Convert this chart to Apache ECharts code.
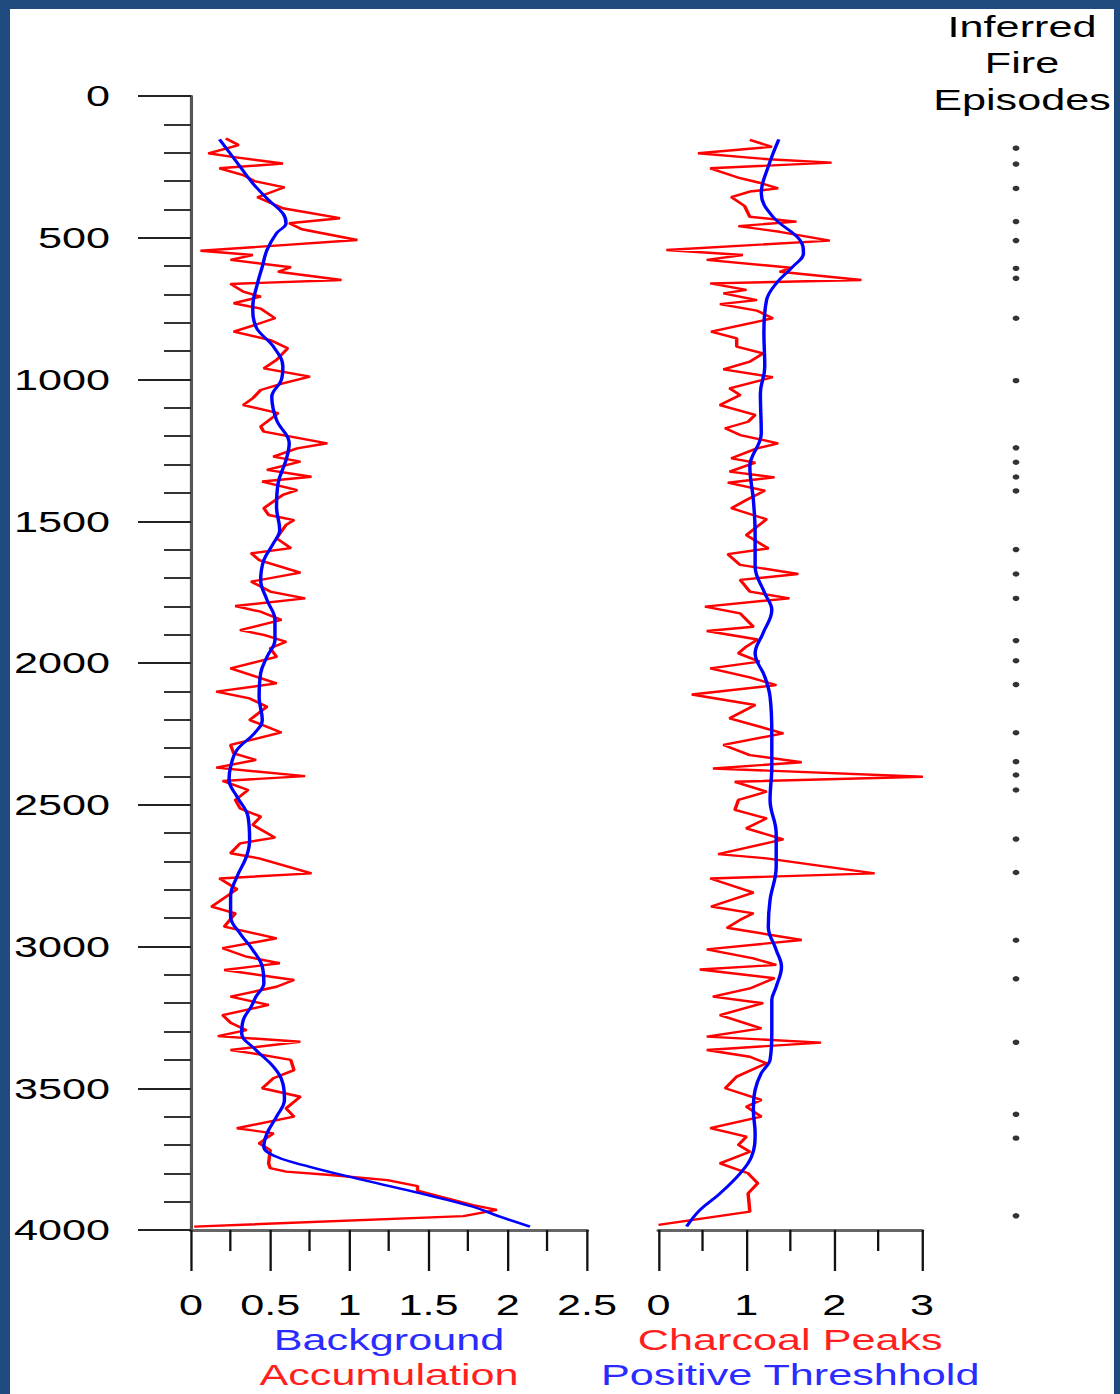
<!DOCTYPE html>
<html><head><meta charset="utf-8">
<script src="https://cdn.jsdelivr.net/npm/echarts@6/dist/echarts.min.js"></script>
<style>
html,body{margin:0;padding:0;width:1120px;height:1394px;overflow:hidden;background:#fff;}
#wrap{position:absolute;left:0;top:0;width:1120px;height:1394px;background:#1f4b7f;overflow:hidden}
#inner{position:absolute;left:10px;top:9px;width:1104px;height:1390px;background:#fff}
#chart{position:absolute;left:0;top:0;width:778px;height:1394px;transform:scaleX(1.43959);transform-origin:0 0;}
</style></head>
<body><div id="wrap"><div id="inner"></div><div id="chart"></div></div>
<script>
// ---- data ----
const depthTicks = [0, 500, 1000, 1500, 2000, 2500, 3000, 3500, 4000];
const accTicks = [0, 0.5, 1, 1.5, 2, 2.5];
const peakTicks = [0, 1, 2, 3];

const accDepth = [150,173,202,214,238,255,279,300,322,357,396,431,449,470,508,546,561,578,604,620,649,663,690,708,731,750,784,810,831,861,890,931,961,990,1014,1037,1066,1090,1119,1166,1184,1225,1243,1272,1290,1319,1343,1360,1390,1407,1454,1478,1496,1513,1560,1595,1613,1637,1681,1713,1748,1772,1799,1819,1848,1884,1901,1925,1948,1978,2019,2048,2072,2101,2125,2154,2201,2245,2289,2319,2342,2369,2399,2416,2448,2483,2513,2542,2571,2616,2636,2671,2689,2742,2760,2798,2859,2883,2930,2971,3006,3036,3059,3083,3118,3142,3177,3206,3242,3269,3295,3316,3336,3365,3377,3400,3436,3465,3500,3530,3571,3600,3641,3659,3694,3718,3765,3782,3794,3806,3824,3845,3861,3912,3929,3951,3988];
const accValue = [0.22,0.30,0.11,0.25,0.58,0.18,0.33,0.40,0.59,0.42,0.58,0.94,0.62,0.70,1.05,0.06,0.39,0.25,0.63,0.55,0.95,0.25,0.33,0.44,0.27,0.44,0.53,0.39,0.27,0.50,0.61,0.54,0.46,0.75,0.58,0.44,0.39,0.33,0.55,0.44,0.46,0.86,0.67,0.52,0.69,0.48,0.76,0.45,0.67,0.58,0.46,0.49,0.65,0.60,0.54,0.63,0.38,0.43,0.69,0.38,0.50,0.72,0.28,0.44,0.57,0.31,0.46,0.60,0.50,0.54,0.25,0.41,0.54,0.16,0.37,0.48,0.37,0.57,0.25,0.27,0.41,0.16,0.72,0.20,0.36,0.28,0.31,0.44,0.39,0.53,0.31,0.25,0.43,0.76,0.18,0.29,0.13,0.28,0.21,0.54,0.20,0.35,0.56,0.21,0.65,0.54,0.25,0.49,0.20,0.25,0.35,0.17,0.69,0.25,0.39,0.63,0.65,0.52,0.45,0.69,0.60,0.65,0.29,0.52,0.43,0.50,0.49,0.50,0.60,0.88,1.24,1.43,1.43,1.78,1.93,1.72,0.02];

const bgDepth = [153,249,308,367,414,449,484,543,602,661,743,814,884,955,1002,1061,1143,1225,1284,1366,1449,1531,1578,1637,1707,1778,1848,1919,1978,2036,2120,2201,2248,2307,2366,2413,2471,2542,2624,2683,2754,2824,2895,2954,3012,3071,3130,3177,3212,3259,3306,3365,3424,3483,3541,3600,3659,3706,3742,3777,3824,3871,3918,3953,3988];
const bgValue = [0.18,0.31,0.39,0.49,0.58,0.60,0.54,0.48,0.45,0.42,0.39,0.41,0.52,0.58,0.57,0.51,0.54,0.62,0.60,0.55,0.54,0.56,0.52,0.46,0.44,0.48,0.53,0.53,0.48,0.44,0.43,0.45,0.40,0.29,0.25,0.24,0.29,0.36,0.37,0.35,0.29,0.25,0.25,0.31,0.39,0.45,0.46,0.41,0.38,0.33,0.32,0.41,0.52,0.58,0.59,0.54,0.48,0.46,0.54,0.75,1.09,1.45,1.78,1.95,2.14];

const peakDepth = [155,179,202,223,235,255,290,306,326,337,357,388,426,443,459,479,510,543,561,578,606,620,649,661,684,696,720,734,757,784,831,855,884,908,937,964,992,1031,1055,1090,1125,1149,1172,1196,1225,1243,1278,1293,1325,1345,1364,1392,1425,1454,1493,1549,1596,1616,1654,1686,1707,1748,1772,1801,1825,1872,1887,1917,1942,1966,1995,2019,2051,2078,2111,2148,2195,2248,2289,2325,2350,2372,2401,2419,2454,2483,2518,2548,2583,2622,2674,2689,2742,2760,2810,2859,2883,2906,2934,2977,3010,3042,3065,3081,3112,3148,3177,3200,3242,3289,3318,3339,3365,3389,3412,3459,3500,3541,3565,3600,3641,3671,3700,3724,3765,3800,3835,3871,3935,3982];
const peakValue = [1.04,1.29,0.45,1.25,1.97,0.59,0.93,1.15,1.36,1.04,0.83,0.98,1.04,1.57,0.91,1.38,1.95,0.09,0.96,0.55,1.51,1.38,2.31,0.59,1.00,0.74,1.12,0.70,1.12,1.30,0.60,0.89,0.89,1.19,1.04,0.74,1.30,0.81,0.93,0.70,1.10,1.02,0.76,0.93,1.36,1.12,0.83,1.10,0.81,1.32,0.79,1.21,1.00,0.83,1.23,1.00,1.25,0.79,0.93,1.59,0.93,1.04,1.49,0.53,0.93,1.08,0.55,1.13,1.00,0.91,1.15,0.59,1.04,1.34,0.38,1.10,0.81,1.42,0.74,1.04,1.63,0.62,3.01,0.87,1.23,0.91,0.87,1.23,1.00,1.42,0.68,1.23,2.46,0.59,1.08,0.60,1.08,0.93,0.78,1.63,0.55,1.08,1.34,0.47,1.32,1.04,0.62,1.19,0.70,1.17,0.55,1.85,0.55,1.04,1.23,0.89,0.76,1.17,1.00,1.17,0.59,1.00,0.91,1.04,0.70,1.02,1.13,1.02,1.04,0.00];

const thrDepth = [153,249,343,425,508,555,602,661,720,837,955,1049,1190,1307,1425,1543,1660,1754,1813,1895,1966,2048,2119,2248,2366,2483,2601,2719,2836,2930,3012,3071,3142,3189,3306,3400,3447,3506,3577,3659,3741,3800,3871,3930,3988];
const thrValue = [1.37,1.25,1.17,1.30,1.61,1.65,1.53,1.34,1.23,1.20,1.21,1.16,1.17,1.04,1.08,1.10,1.10,1.21,1.29,1.19,1.10,1.21,1.27,1.29,1.29,1.27,1.34,1.34,1.27,1.25,1.34,1.40,1.34,1.29,1.29,1.27,1.17,1.10,1.08,1.10,1.06,0.93,0.70,0.47,0.32];

const fireDepth = [184,240,326,443,510,608,643,784,1004,1241,1292,1344,1393,1600,1686,1772,1921,1992,2076,2246,2348,2395,2448,2621,2739,2978,3114,3338,3592,3676,3950];

// ---- layout (reference px -> internal px, chart is stretched horizontally by S) ----
const S = 1120 / 778;
const X = v => v / S;
const TOP = 96, BOTTOM = 1394 - 1230;
const FONT = 'Liberation Sans, Arial, Helvetica, sans-serif';
const BLUE = '#0000ff', RED = '#ff0000', TBLUE = '#2b2bff', TRED = '#ff1f1f';

const zip = (d, v) => d.map((y, i) => [v[i], y]);

const chart = echarts.init(document.getElementById('chart'), null, {renderer: 'svg'});

const yBase = {
  type: 'value', inverse: true, min: depthTicks[0], max: depthTicks[depthTicks.length - 1],
  interval: depthTicks[1] - depthTicks[0], splitLine: {show: false}
};
const hiddenY = Object.assign({}, yBase, {show: false});

// two-line axis names: first line box taller, second shorter, so the line pitch stays ~35px
// while the text block ends inside the picture
const nameRich = {
  bt: {color: TBLUE, fontSize: 30, fontFamily: FONT, lineHeight: 46},
  rt: {color: TRED, fontSize: 30, fontFamily: FONT, lineHeight: 46},
  bb: {color: TBLUE, fontSize: 30, fontFamily: FONT, lineHeight: 24},
  rb: {color: TRED, fontSize: 30, fontFamily: FONT, lineHeight: 24}
};

function xAxisFor(ticks, gridIndex, name) {
  return {
    type: 'value', gridIndex, min: ticks[0], max: ticks[ticks.length - 1], interval: ticks[1] - ticks[0],
    position: 'bottom',
    axisLine: {show: true, onZero: false, lineStyle: {color: '#666', width: 3}},
    axisTick: {show: true, length: 41, lineStyle: {color: '#111', width: 1.6}},
    minorTick: {show: true, splitNumber: 2, length: 21, lineStyle: {color: '#111', width: 1.6}},
    splitLine: {show: false}, minorSplitLine: {show: false},
    axisLabel: {margin: 60, fontSize: 30, color: '#000', fontFamily: FONT,
      formatter: v => String(v), showMinLabel: true, showMaxLabel: true, hideOverlap: false},
    name: name, nameLocation: 'middle', nameGap: 87,
    nameTextStyle: {fontFamily: FONT, fontSize: 30, rich: nameRich}
  };
}

const gridBase = {top: TOP, bottom: BOTTOM, containLabel: false, outerBoundsMode: 'none'};

const option = {
  animation: false,
  backgroundColor: 'transparent',
  grid: [
    Object.assign({left: X(191), width: X(587) - X(191)}, gridBase),
    Object.assign({left: X(658.5), width: X(922) - X(658.5)}, gridBase),
    Object.assign({left: X(1016) - 10, width: 20}, gridBase)
  ],
  xAxis: [
    xAxisFor(accTicks, 0, '{bt|Background}\n{rb|Accumulation}'),
    xAxisFor(peakTicks, 1, '{rt|Charcoal Peaks}\n{bb|Positive Threshhold}'),
    {type: 'value', gridIndex: 2, min: -1, max: 1, show: false}
  ],
  yAxis: [
    Object.assign({}, yBase, {
      gridIndex: 0,
      axisLine: {show: true, lineStyle: {color: '#555', width: 2.2}},
      axisTick: {show: true, length: X(191 - 138), lineStyle: {color: '#222', width: 2}},
      minorTick: {show: true, splitNumber: 5, length: X(191 - 164), lineStyle: {color: '#333', width: 2}},
      minorSplitLine: {show: false},
      axisLabel: {margin: X(191 - 110), fontSize: 30, color: '#000', fontFamily: FONT,
        formatter: v => String(v), showMinLabel: true, showMaxLabel: true}
    }),
    Object.assign({}, hiddenY, {gridIndex: 1}),
    Object.assign({}, hiddenY, {gridIndex: 2})
  ],
  graphic: [{
    type: 'text', x: X(1022), y: 63,
    style: {text: 'Inferred\nFire\nEpisodes', fill: '#000', font: '30px ' + FONT,
      align: 'center', verticalAlign: 'middle', lineHeight: 37}
  }],
  series: [
    {type: 'line', name: 'Accumulation', xAxisIndex: 0, yAxisIndex: 0, data: zip(accDepth, accValue),
      showSymbol: false, lineStyle: {color: RED, width: 2.4}, itemStyle: {color: RED}, z: 3},
    {type: 'line', name: 'Background', xAxisIndex: 0, yAxisIndex: 0, data: zip(bgDepth, bgValue),
      showSymbol: false, smooth: 0.4, lineStyle: {color: BLUE, width: 2.4}, itemStyle: {color: BLUE}, z: 4},
    {type: 'line', name: 'Charcoal Peaks', xAxisIndex: 1, yAxisIndex: 1, data: zip(peakDepth, peakValue),
      showSymbol: false, lineStyle: {color: RED, width: 2.4}, itemStyle: {color: RED}, z: 3},
    {type: 'line', name: 'Positive Threshhold', xAxisIndex: 1, yAxisIndex: 1, data: zip(thrDepth, thrValue),
      showSymbol: false, smooth: 0.4, lineStyle: {color: BLUE, width: 2.4}, itemStyle: {color: BLUE}, z: 4},
    {type: 'scatter', name: 'Inferred Fire Episodes', xAxisIndex: 2, yAxisIndex: 2,
      data: fireDepth.map(d => [0, d]), symbol: 'circle', symbolSize: [4.8, 5.4],
      itemStyle: {color: '#000'}}
  ]
};
chart.setOption(option);
</script>
</body></html>
